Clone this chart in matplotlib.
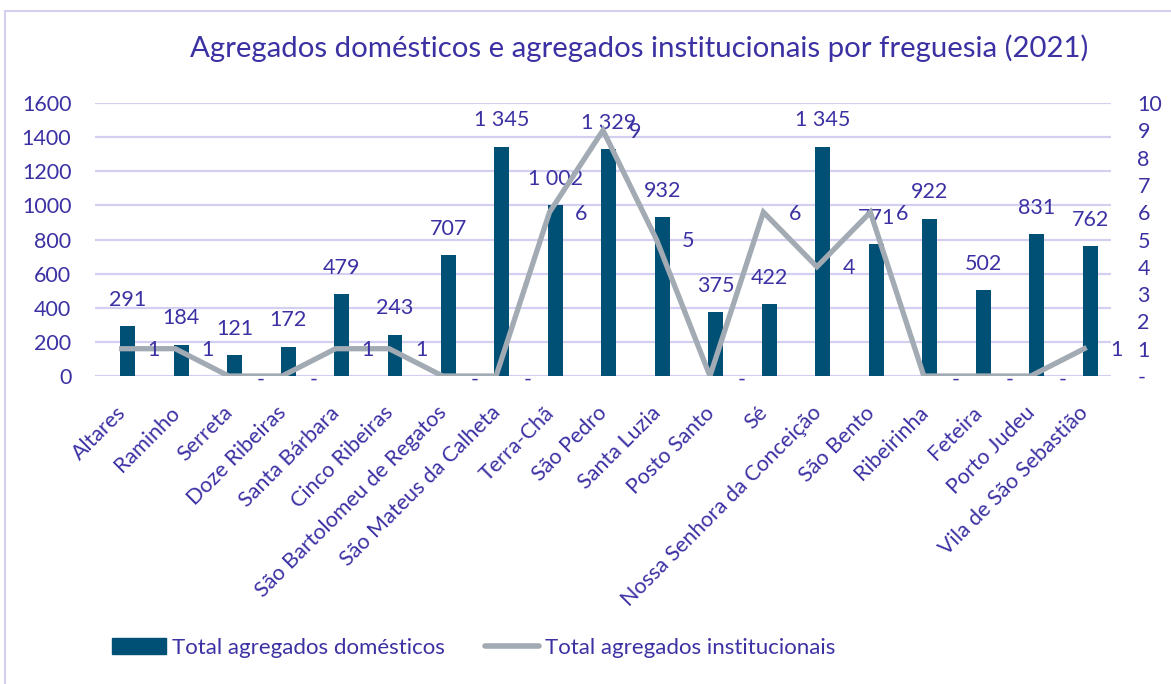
import matplotlib
matplotlib.use("Agg")
import matplotlib.pyplot as plt
import matplotlib.transforms as mtransforms
from matplotlib.lines import Line2D
from matplotlib.patches import Rectangle, Patch

categories = ["Altares", "Raminho", "Serreta", "Doze Ribeiras", "Santa Bárbara",
              "Cinco Ribeiras", "São Bartolomeu de Regatos", "São Mateus da Calheta",
              "Terra-Chã", "São Pedro", "Santa Luzia", "Posto Santo", "Sé",
              "Nossa Senhora da Conceição", "São Bento", "Ribeirinha", "Feteira",
              "Porto Judeu", "Vila de São Sebastião"]
domesticos = [291, 184, 121, 172, 479, 243, 707, 1345, 1002, 1329, 932, 375, 422,
              1345, 771, 922, 502, 831, 762]
institucionais = [1, 1, 0, 0, 1, 1, 0, 0, 6, 9, 5, 0, 6, 4, 6, 0, 0, 0, 1]
left_ticks = [0, 200, 400, 600, 800, 1000, 1200, 1400, 1600]
right_ticks = [0, 1, 2, 3, 4, 5, 6, 7, 8, 9, 10]

TXT = "#3b31a3"
BAR = "#004f74"
LINE = "#a2aab3"
GRID = "#d3cff0"
FONT = "Lato"
FS = 15.5

plt.rcParams["font.family"] = [FONT, "DejaVu Sans"]

W, H = 1171, 684
fig = plt.figure(figsize=(W / 100, H / 100), dpi=100)
ax = fig.add_axes([95 / W, 1 - 376 / H, (1111 - 95) / W, (376 - 103) / H])
ax2 = ax.twinx()

x = list(range(len(categories)))
bx = [xi + 0.11 for xi in x]
ax.bar(bx, domesticos, width=0.28, color=BAR, zorder=2)
ax.set_ylim(0, 1600)
ax.set_xlim(-0.5, len(categories) - 0.5)
ax.set_yticks(left_ticks)
ax.set_yticklabels([str(v) for v in left_ticks])
for yv in left_ticks:
    ax.axhline(yv, color=GRID, lw=1.6, zorder=0)

def fmt(v):
    return f"{v:,}".replace(",", " ")

for xi, v in zip(bx, domesticos):
    ax.annotate(fmt(v), (xi, v), xytext=(0, 19), textcoords="offset points",
                ha="center", va="center", color=TXT, fontsize=FS)

ax2.plot(x, institucionais, color=LINE, lw=3.8, zorder=3, solid_joinstyle="miter")
ax2.set_ylim(0, 10)
ax2.set_yticks(right_ticks)
ax2.set_yticklabels(["-" if v == 0 else str(v) for v in right_ticks])
for xi, v in zip(x, institucionais):
    lab = "-" if v == 0 else str(v)
    ax2.annotate(lab, (xi, v), xytext=(23, -1 if v else -3), textcoords="offset points",
                 ha="center", va="center", color=TXT, fontsize=FS)

for a in (ax, ax2):
    for s in a.spines.values():
        s.set_visible(False)
    a.tick_params(length=0, colors=TXT, labelsize=FS)
ax.tick_params(axis="x", pad=17)
ax.tick_params(axis="y", pad=17)
ax2.tick_params(axis="y", pad=19)

ax.set_xticks(x)
ax.set_xticklabels(categories, rotation=45, ha="right", rotation_mode="anchor",
                   color=TXT, fontsize=FS)
shift = mtransforms.ScaledTranslation(-6 / 100, -3 / 100, fig.dpi_scale_trans)
for lbl in ax.get_xticklabels():
    lbl.set_transform(lbl.get_transform() + shift)

fig.text(639 / W, 1 - 48 / H, "Agregados domésticos e agregados institucionais por freguesia (2021)",
         ha="center", va="center", color=TXT, fontsize=21.2)

handles = [Patch(facecolor=BAR, edgecolor=BAR),
           Line2D([0], [0], color=LINE, lw=4, solid_capstyle="round")]
fig.legend(handles, ["Total agregados domésticos", "Total agregados institucionais"],
           loc="center", bbox_to_anchor=(474 / W, 1 - 648 / H), ncol=2, frameon=False,
           fontsize=16, labelcolor=TXT, handlelength=2.4, columnspacing=1.8,
           handletextpad=0.3)

fig.patches.append(Rectangle((5 / W, -0.1), 1.2, 1 - 11 / H + 0.1, transform=fig.transFigure,
                             fill=False, edgecolor=GRID, lw=1.5))

fig.savefig("out.png", dpi=100)
